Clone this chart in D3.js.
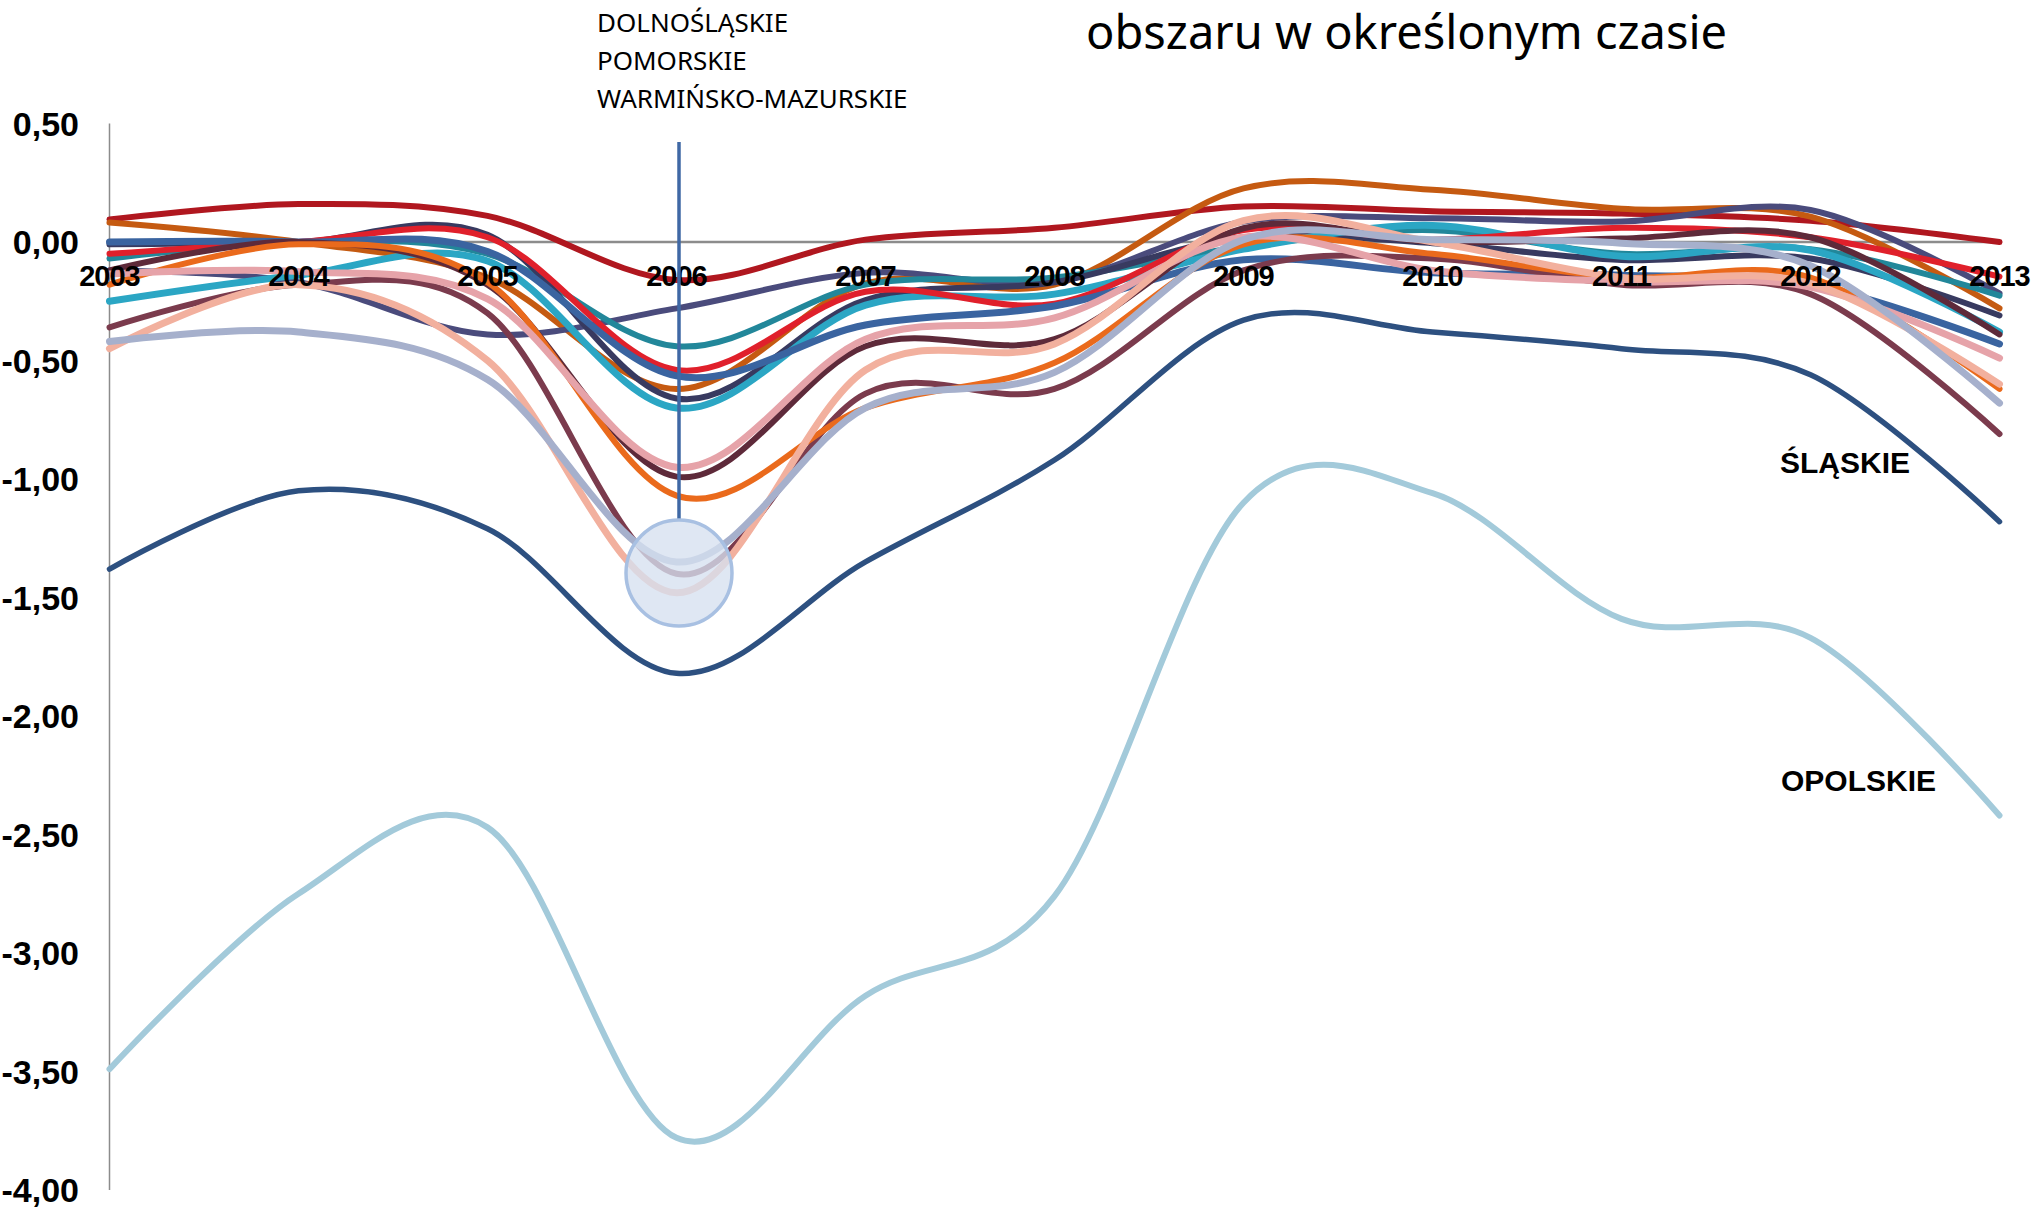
<!DOCTYPE html>
<html>
<head>
<meta charset="utf-8">
<script src="https://cdn.jsdelivr.net/npm/d3@7"></script>
<style>
	html, body { margin: 0; padding: 0; background: #fff; }
	svg { display: block; }
</style>
</head>
<body>
<div id="chart"></div>
<script>
// values, one array per voivodeship line (2003..2013)
const years = [2003, 2004, 2005, 2006, 2007, 2008, 2009, 2010, 2011, 2012, 2013];
const yTicks = [0.5, 0, -0.5, -1, -1.5, -2, -2.5, -3, -3.5, -4];

const darkRed     = [0.095, 0.16, 0.11, -0.16, 0.01, 0.06, 0.15, 0.13, 0.12, 0.09, 0.0];
const burntOrange = [0.082, 0.0, -0.15, -0.62, -0.175, -0.18, 0.226, 0.22, 0.14, 0.107, -0.28];
const brightRed   = [-0.05, 0.0, 0.02, -0.54, -0.21, -0.26, 0.05, 0.01, 0.06, 0.02, -0.146];
const steelBlue   = [0.0, 0.0, -0.04, -0.565, -0.35, -0.27, -0.075, -0.13, -0.14, -0.18, -0.43];
const darkTeal    = [-0.07, 0.0, -0.05, -0.44, -0.18, -0.15, -0.02, 0.05, -0.05, -0.03, -0.226];
const darkNavy    = [-0.01, 0.0, 0.03, -0.66, -0.245, -0.17, 0.02, -0.005, -0.076, -0.07, -0.31];
const cyan        = [-0.25, -0.14, -0.08, -0.70, -0.266, -0.22, -0.03, 0.07, -0.06, -0.035, -0.38];
const indigo      = [-0.12, -0.17, -0.39, -0.28, -0.13, -0.167, 0.086, 0.10, 0.086, 0.135, -0.217];
const pink        = [-0.135, -0.125, -0.24, -0.95, -0.41, -0.32, 0.02, -0.12, -0.167, -0.19, -0.49];
const darkMaroon  = [-0.12, 0.0, -0.18, -0.99, -0.44, -0.41, 0.058, 0.0, 0.015, 0.02, -0.39];
const mauve       = [-0.36, -0.18, -0.30, -1.40, -0.64, -0.62, -0.12, -0.07, -0.18, -0.22, -0.81];
const orange      = [-0.18, -0.01, -0.17, -1.07, -0.70, -0.51, -0.01, -0.05, -0.15, -0.15, -0.62];
const salmon      = [-0.45, -0.18, -0.50, -1.48, -0.54, -0.43, 0.09, 0.0, -0.15, -0.175, -0.60];
const lavender    = [-0.42, -0.38, -0.58, -1.35, -0.70, -0.55, 0.01, 0.01, -0.005, -0.10, -0.68];
const slaskie     = [-1.38, -1.05, -1.21, -1.82, -1.35, -0.92, -0.33, -0.38, -0.45, -0.56, -1.18];
const opolskie    = [-3.49, -2.75, -2.47, -3.78, -3.18, -2.76, -1.10, -1.06, -1.59, -1.67, -2.42];

const highlighted = ["DOLNOŚLĄSKIE", "POMORSKIE", "WARMIŃSKO-MAZURSKIE"];

// draw order = Excel series order, later ones on top
const series = [
	{values: opolskie, color: "#A3CADA", width: 6},
	{values: slaskie, color: "#2D5080", width: 5.5},
	{values: darkRed, color: "#B0171F", width: 6},
	{values: burntOrange, color: "#C55A11", width: 6},
	{values: indigo, color: "#4A4B7C", width: 6},
	{values: darkTeal, color: "#22879A", width: 6},
	{values: darkNavy, color: "#383A60", width: 6},
	{values: cyan, color: "#2BA6C4", width: 7},
	{values: brightRed, color: "#E0202B", width: 6},
	{values: steelBlue, color: "#3A64A0", width: 7},
	{values: darkMaroon, color: "#5E2A3A", width: 6},
	{values: mauve, color: "#7B3B4D", width: 6},
	{values: orange, color: "#EA6A1C", width: 6},
	{values: pink, color: "#E6A3A9", width: 7},
	{values: salmon, color: "#F2B09E", width: 7},
	{values: lavender, color: "#A6B0CC", width: 7},
];

const width = 2039;
const height = 1210;

const svg = d3.select("#chart")
	.append("svg")
	.attr("width", width)
	.attr("height", height);

const x = d3.scaleLinear().domain([2003, 2013]).range([109.5, 1999.5]);
const y = d3.scaleLinear().domain([-4, 0.5]).range([1190, 123.5]);

// y axis line + zero line
svg.append("line")
	.attr("x1", x(2003)).attr("x2", x(2003))
	.attr("y1", y(0.5)).attr("y2", y(-4))
	.attr("stroke", "#8c8c8c").attr("stroke-width", 1.5);

svg.append("line")
	.attr("x1", x(2003)).attr("x2", x(2013))
	.attr("y1", y(0)).attr("y2", y(0))
	.attr("stroke", "#8c8c8c").attr("stroke-width", 2.5);

// y tick labels
const fmt = v => d3.format(".2f")(v).replace(".", ",").replace("−", "-");
svg.append("g")
	.selectAll("text")
	.data(yTicks)
	.join("text")
	.attr("x", 79)
	.attr("y", d => y(d))
	.attr("dy", "0.36em")
	.attr("text-anchor", "end")
	.attr("font-family", "'Liberation Sans', Arial, sans-serif")
	.attr("font-weight", "bold")
	.attr("font-size", "34px")
	.attr("fill", "#000")
	.text(fmt);

// lines
const line = d3.line()
	.x((d, i) => x(years[i]))
	.y(d => y(d))
	.curve(d3.curveCardinal.tension(0));

svg.append("g")
	.attr("fill", "none")
	.attr("stroke-linecap", "round")
	.attr("stroke-linejoin", "round")
	.selectAll("path")
	.data(series)
	.join("path")
	.attr("stroke", d => d.color)
	.attr("stroke-width", d => d.width)
	.attr("d", d => line(d.values));

// x labels sit over the lines at the zero line
svg.append("g")
	.selectAll("text")
	.data(years)
	.join("text")
	.attr("x", d => x(d))
	.attr("y", 286)
	.attr("text-anchor", "middle")
	.attr("font-family", "'Liberation Sans', Arial, sans-serif")
	.attr("font-weight", "bold")
	.attr("font-size", "29px")
	.attr("letter-spacing", "-1px")
	.attr("fill", "#000")
	.text(d => d);

// callout for 2006
const cx = x(2006) + 2.5;
svg.append("line")
	.attr("x1", cx).attr("x2", cx)
	.attr("y1", 142).attr("y2", 520)
	.attr("stroke", "#3F68A5").attr("stroke-width", 3.5);

svg.append("circle")
	.attr("cx", cx)
	.attr("cy", 573)
	.attr("r", 53)
	.attr("fill", "rgb(214,224,240)")
	.attr("fill-opacity", 0.78)
	.attr("stroke", "#A8C0E2")
	.attr("stroke-width", 3.5);

svg.append("g")
	.selectAll("text")
	.data(highlighted)
	.join("text")
	.attr("x", 597)
	.attr("y", (d, i) => 32 + i * 38)
	.attr("font-family", "'Noto Sans', sans-serif")
	.attr("font-size", "26px")
	.attr("fill", "#000")
	.text(d => d);

// title fragment
svg.append("text")
	.attr("x", 1086)
	.attr("y", 49)
	.attr("font-family", "'Noto Sans', sans-serif")
	.attr("font-size", "47px")
	.attr("fill", "#000")
	.text("obszaru w określonym czasie");

// direct labels
svg.append("text")
	.attr("x", 1780).attr("y", 473)
	.attr("font-family", "'Liberation Sans', Arial, sans-serif")
	.attr("font-weight", "bold")
	.attr("font-size", "30px")
	.text("ŚLĄSKIE");

svg.append("text")
	.attr("x", 1781).attr("y", 791)
	.attr("font-family", "'Liberation Sans', Arial, sans-serif")
	.attr("font-weight", "bold")
	.attr("font-size", "30px")
	.text("OPOLSKIE");
</script>
</body>
</html>
